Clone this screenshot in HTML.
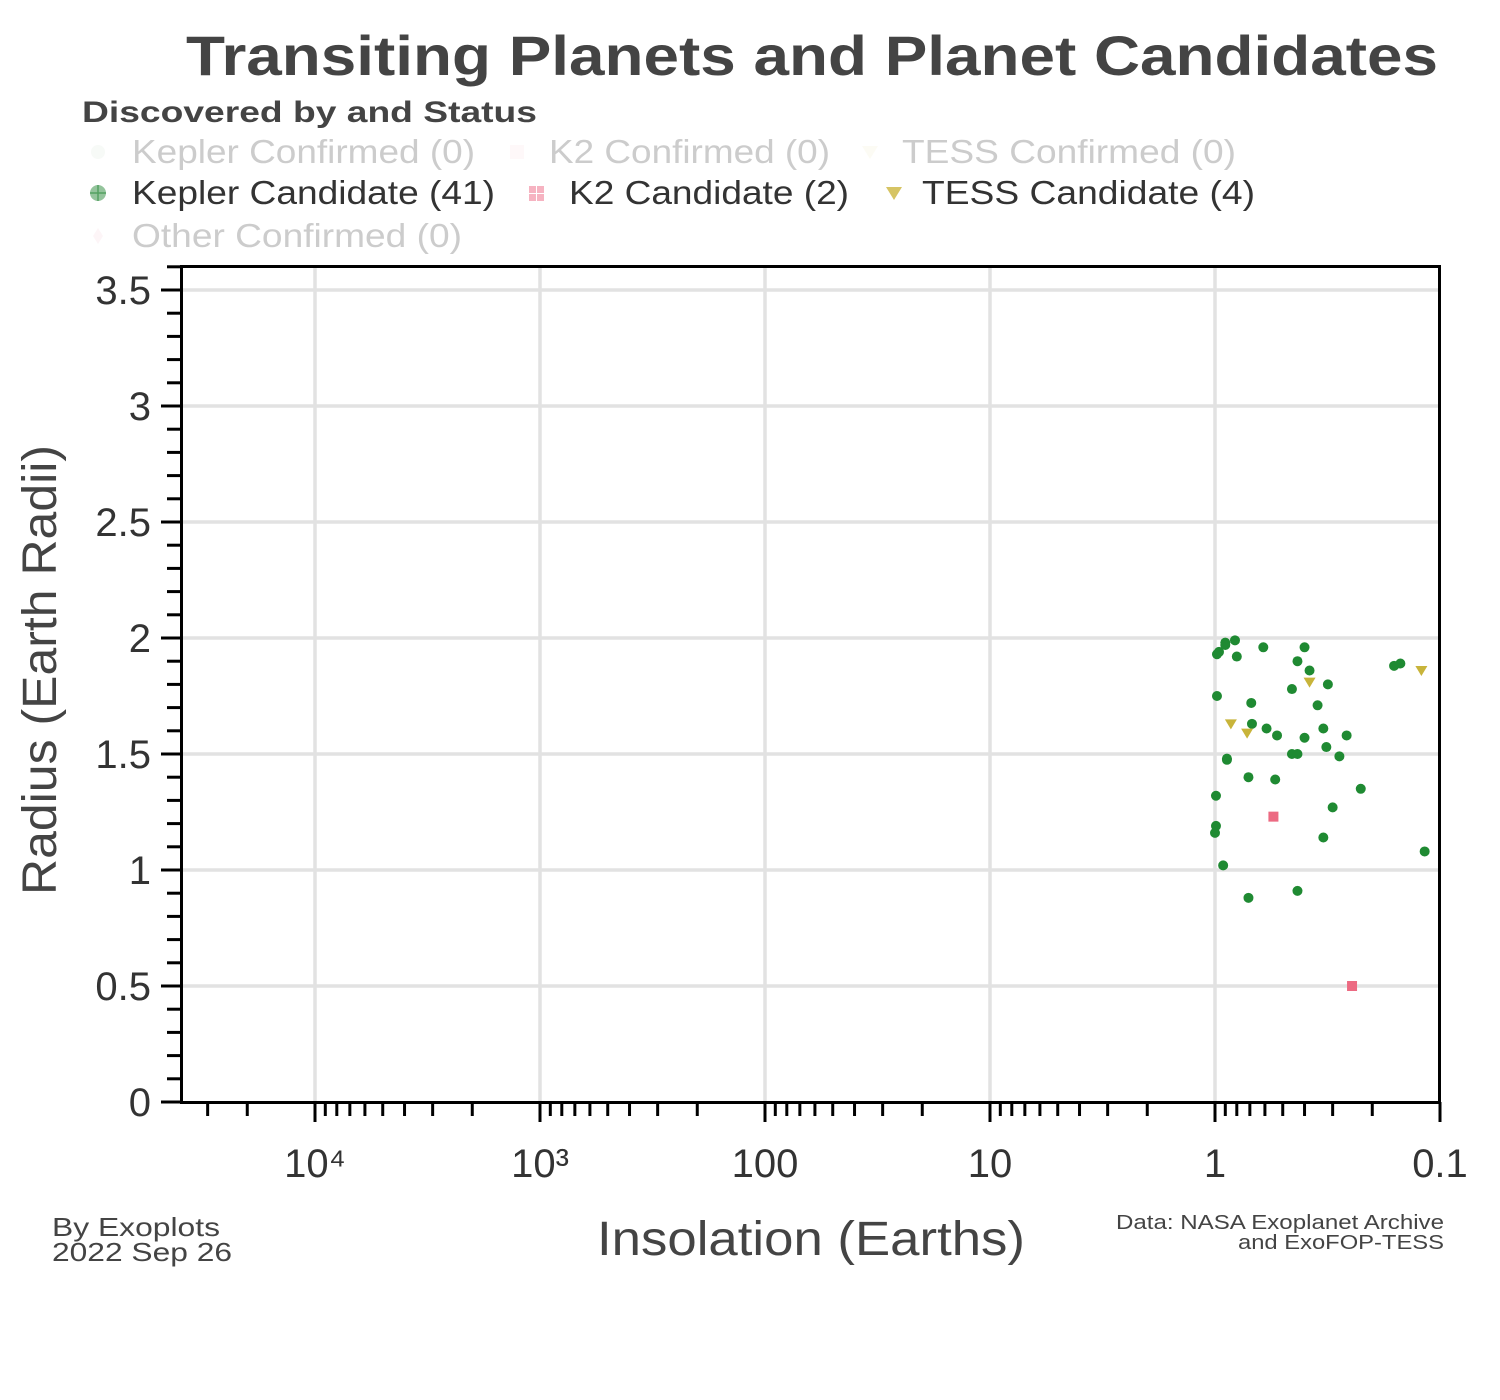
<!DOCTYPE html>
<html><head><meta charset="utf-8"><style>
body{margin:0;background:#fff;}
svg{display:block;font-family:"Liberation Sans",Arial,sans-serif;}
</style></head><body>
<svg id="chart" width="1500" height="1400" viewBox="0 0 1500 1400">
<text x="186" y="75" textLength="1252" lengthAdjust="spacingAndGlyphs" font-size="56" font-weight="bold" fill="#444">Transiting Planets and Planet Candidates</text>
<g>
<text x="82" y="122" textLength="455" lengthAdjust="spacingAndGlyphs" font-size="30" font-weight="bold" fill="#444">Discovered by and Status</text>
<g><circle cx="98" cy="152" r="7" fill="#2a8a3a" opacity="0.04"/><text x="132" y="163" textLength="343" lengthAdjust="spacingAndGlyphs" font-size="33" fill="#ccc">Kepler Confirmed (0)</text></g>
<g><rect x="510" y="145" width="14" height="14" fill="#e04060" opacity="0.04"/><text x="549" y="163" textLength="281" lengthAdjust="spacingAndGlyphs" font-size="33" fill="#ccc">K2 Confirmed (0)</text></g>
<g><path d="M862 146 L878 146 L870 159Z" fill="#c8b030" opacity="0.05"/><text x="902" y="163" textLength="334" lengthAdjust="spacingAndGlyphs" font-size="33" fill="#ccc">TESS Confirmed (0)</text></g>
<g><circle cx="98" cy="193" r="8" fill="#2a8a3a" opacity="0.5"/><path d="M90 193H106M98 185V201" stroke="#2a8a3a" stroke-width="1.5" opacity="0.6"/><text x="132" y="204" textLength="363" lengthAdjust="spacingAndGlyphs" font-size="33" fill="#333">Kepler Candidate (41)</text></g>
<g><rect x="529" y="186" width="15" height="15" fill="#f08098" opacity="0.6"/><path d="M529 193.5H544M536.5 186V201" stroke="#fff" stroke-width="1"/><text x="569" y="204" textLength="280" lengthAdjust="spacingAndGlyphs" font-size="33" fill="#333">K2 Candidate (2)</text></g>
<g><path d="M886 187 L902 187 L894 200Z" fill="#c8b030" opacity="0.75"/><text x="922" y="204" textLength="333" lengthAdjust="spacingAndGlyphs" font-size="33" fill="#333">TESS Candidate (4)</text></g>
<g><path d="M98 228 L103 236 L98 244 L93 236Z" fill="#e04060" opacity="0.05"/><text x="132" y="247" textLength="330" lengthAdjust="spacingAndGlyphs" font-size="33" fill="#ccc">Other Confirmed (0)</text></g>
</g>
<g id="grid"></g>
<g id="marks"></g>
<rect x="181.5" y="266.5" width="1258" height="836" fill="none" stroke="#000" stroke-width="3"/>
<g id="axes"></g>
<text x="597" y="1255" textLength="428" lengthAdjust="spacingAndGlyphs" font-size="48" fill="#444">Insolation (Earths)</text>
<text transform="translate(56,895) rotate(-90)" textLength="450" lengthAdjust="spacingAndGlyphs" font-size="48" fill="#444">Radius (Earth Radii)</text>
<text x="52" y="1236" textLength="168" lengthAdjust="spacingAndGlyphs" font-size="26" fill="#444">By Exoplots</text>
<text x="52" y="1261" textLength="180" lengthAdjust="spacingAndGlyphs" font-size="26" fill="#444">2022 Sep 26</text>
<text x="1116" y="1229" textLength="328" lengthAdjust="spacingAndGlyphs" font-size="20" fill="#444">Data: NASA Exoplanet Archive</text>
<text x="1238" y="1249" textLength="206" lengthAdjust="spacingAndGlyphs" font-size="20" fill="#444">and ExoFOP-TESS</text>
</svg>
<script>
const keplerInsol=[0.90,0.815,0.98,0.96,0.80,0.61,0.40,0.43,0.38,0.16,0.15,0.455,0.315,0.98,0.69,0.35,0.685,0.59,0.53,0.40,0.33,0.26,0.32,0.455,0.43,0.28,0.885,0.885,0.71,0.54,0.225,0.99,0.30,0.99,1.0,0.33,0.117,0.92,0.71,0.43,0.90];
const keplerRadius=[1.98,1.99,1.93,1.94,1.92,1.96,1.96,1.90,1.86,1.88,1.89,1.78,1.80,1.75,1.72,1.71,1.63,1.61,1.58,1.57,1.61,1.58,1.53,1.50,1.50,1.49,1.48,1.475,1.40,1.39,1.35,1.32,1.27,1.19,1.16,1.14,1.08,1.02,0.88,0.91,1.97];
const k2Insol=[0.55,0.246];
const k2Radius=[1.23,0.50];
const tessInsol=[0.38,0.121,0.85,0.72];
const tessRadius=[1.81,1.86,1.63,1.59];
const yTicks=[0,0.5,1,1.5,2,2.5,3,3.5];
const xTickExp=[-1,0,1,2,3,4];
const xTickLabels=["0.1","1","10","100","10³","10⁴"];

const NS="http://www.w3.org/2000/svg";
const X0=181,X1=1440,Y0=1102,Y1=266;
function xs(v){return 1215-225*Math.log10(v);}
function ys(v){return 1102-232*v;}
function mk(tag,attrs,parent){const e=document.createElementNS(NS,tag);for(const k in attrs)e.setAttribute(k,attrs[k]);parent.appendChild(e);return e;}
const grid=document.getElementById('grid'),axes=document.getElementById('axes'),marks=document.getElementById('marks');

yTicks.forEach((t,i)=>{
  if(t>0){const g=mk('line',{x1:X0,x2:X1,y1:ys(t),y2:ys(t),stroke:'#e2e2e2','stroke-width':3.5},grid);
  
  }
  const l=mk('text',{x:151,y:ys(t)+14,'text-anchor':'end','font-size':40,fill:'#333'},axes);
  l.textContent=String(t);
  
  
});
for(let v=0;v<=3.6001;v+=0.1){
  const major=Math.abs(v*2-Math.round(v*2))<1e-6;
  const t=mk('line',{x1:major?161:167,x2:181,y1:ys(v),y2:ys(v),stroke:'#000','stroke-width':3},axes);
  
  
}
xTickExp.forEach((e,i)=>{
  const x=xs(Math.pow(10,e));
  if(e>-1&&e<5){const g=mk('line',{x1:x,x2:x,y1:Y1,y2:Y0,stroke:'#e2e2e2','stroke-width':3.5},grid);
  
  }
  const l=mk('text',{x:x,y:1177,'text-anchor':'middle','font-size':40,fill:'#333'},axes);
  l.textContent=xTickLabels[i];
  
  
});
for(let e=-1;e<=4;e++){for(let m=1;m<=9;m++){
  const v=m*Math.pow(10,e);const x=xs(v);
  if(x<X0-1||x>X1+1)continue;
  const t=mk('line',{x1:x,x2:x,y1:1102,y2:m===1?1122:1116,stroke:'#000','stroke-width':3},axes);
  
  
}}
keplerInsol.forEach((s,i)=>{
  const c=mk('circle',{cx:xs(s),cy:ys(keplerRadius[i]),r:5,fill:'#1f8a32'},marks);
  
  
});
k2Insol.forEach((s,i)=>{
  const x=xs(s),y=ys(k2Radius[i]);
  const r=mk('rect',{x:x-5,y:y-5,width:10,height:10,fill:'#ec6a82'},marks);
  
  
});
tessInsol.forEach((s,i)=>{
  const x=xs(s),y=ys(tessRadius[i]);
  const p=mk('path',{d:`M${x-6} ${y-4.5}L${x+6} ${y-4.5}L${x} ${y+5.5}Z`,fill:'#c8b43a'},marks);
  
  
});
</script>
</body></html>
